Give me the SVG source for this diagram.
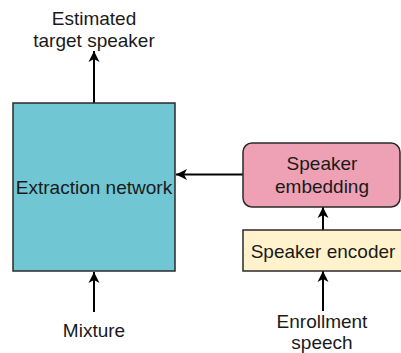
<svg xmlns="http://www.w3.org/2000/svg" width="401" height="353" viewBox="0 0 401 353">
<defs>
<style>
text{font-family:"Liberation Sans",Arial,sans-serif;font-size:19px;fill:#1a1a1a;text-anchor:middle}
.box{stroke:#2a2a2a;stroke-width:1.5}
.edge{stroke:#000;stroke-width:2;fill:none}
</style>
<marker id="arr" markerUnits="userSpaceOnUse" markerWidth="14" markerHeight="14" viewBox="0 0 14 14" refX="12" refY="7" orient="auto">
<path d="M1,1.5 L12,7 L1,12.5 L4,7 Z" fill="#000"/>
</marker>
</defs>
<rect width="401" height="353" fill="#fff"/>
<g id="connectors">
<line class="edge" x1="94" y1="103" x2="94" y2="51" marker-end="url(#arr)"/>
<line class="edge" x1="243" y1="174.5" x2="176" y2="174.5" marker-end="url(#arr)"/>
<line class="edge" x1="323" y1="230" x2="323" y2="207" marker-end="url(#arr)"/>
<line class="edge" x1="323" y1="311" x2="323" y2="271" marker-end="url(#arr)"/>
<line class="edge" x1="94" y1="312" x2="94" y2="272" marker-end="url(#arr)"/>
</g>
<g id="extraction">
<rect class="box" x="13" y="103" width="162" height="168" fill="#71C6D3"/>
<text x="94" y="194">Extraction network</text>
</g>
<g id="embedding">
<rect class="box" x="243" y="143" width="157" height="64" rx="9" fill="#EEA0B4"/>
<text x="322" y="170">Speaker</text>
<text x="322" y="193">embedding</text>
</g>
<g id="encoder">
<rect class="box" x="243" y="230" width="165" height="41" fill="#FFF2CC"/>
<text x="323" y="258">Speaker encoder</text>
</g>
<g id="output">
<text x="94" y="25">Estimated</text>
<text x="94" y="47">target speaker</text>
</g>
<g id="mixture">
<text x="94" y="337">Mixture</text>
</g>
<g id="enrollment">
<text x="322" y="328">Enrollment</text>
<text x="322" y="349">speech</text>
</g>
</svg>
